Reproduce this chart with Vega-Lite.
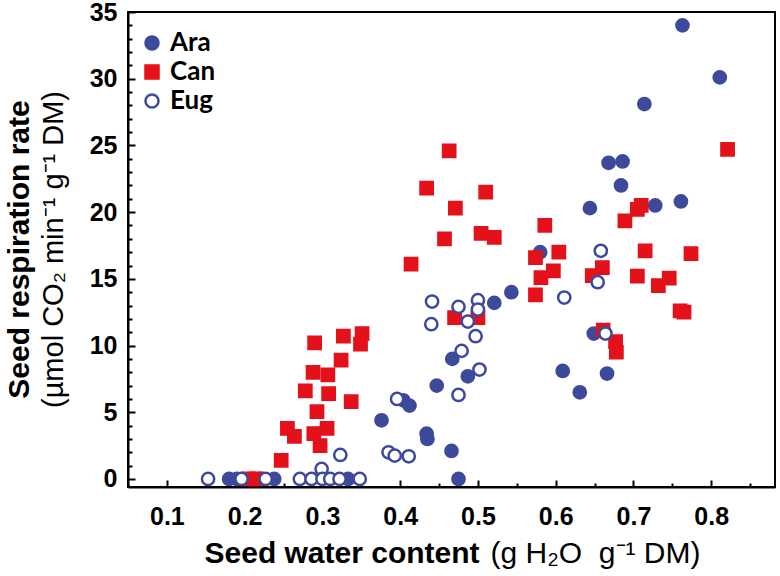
{
  "$schema": "https://vega.github.io/schema/vega-lite/v6.json",
  "autosize": {"type": "none"},
  "width": 647,
  "height": 475,
  "padding": {"left": 128, "top": 12, "right": 5, "bottom": 89},
  "background": "white",
  "config": {
    "view": {"stroke": "black", "strokeWidth": 2},
    "axis": {"domainColor": "black", "domainWidth": 2, "tickColor": "black", "tickWidth": 2, "grid": false,
             "labelFont": "Liberation Sans, Arial, sans-serif", "labelFontWeight": "bold", "labelFontSize": 25, "labelColor": "black",
             "titleColor": "black"}
  },
  "title": {"text": "Seed respiration rate", "subtitle": "(µmol CO₂ min⁻¹  g⁻¹ DM)", "orient": "left", "anchor": "middle",
            "font": "Liberation Sans, Arial, sans-serif", "fontSize": 30, "fontWeight": "bold", "color": "black",
            "subtitleFont": "Liberation Sans, Arial, sans-serif", "subtitleFontSize": 29, "subtitleFontWeight": "normal", "subtitleColor": "black",
            "subtitlePadding": 5, "offset": 20},
  "data": {"values": [
    {"s":"Ara","w":0.763,"r":34.0},{"s":"Ara","w":0.811,"r":30.1},{"s":"Ara","w":0.714,"r":28.1},{"s":"Ara","w":0.668,"r":23.7},
    {"s":"Ara","w":0.686,"r":23.8},{"s":"Ara","w":0.684,"r":22.0},{"s":"Ara","w":0.761,"r":20.8},{"s":"Ara","w":0.728,"r":20.5},
    {"s":"Ara","w":0.644,"r":20.3},{"s":"Ara","w":0.580,"r":17.0},{"s":"Ara","w":0.543,"r":14.0},{"s":"Ara","w":0.521,"r":13.2},
    {"s":"Ara","w":0.649,"r":10.9},{"s":"Ara","w":0.609,"r":8.1},{"s":"Ara","w":0.666,"r":7.9},{"s":"Ara","w":0.631,"r":6.5},
    {"s":"Ara","w":0.467,"r":9.0},{"s":"Ara","w":0.487,"r":7.7},{"s":"Ara","w":0.447,"r":7.0},{"s":"Ara","w":0.404,"r":5.9},
    {"s":"Ara","w":0.412,"r":5.5},{"s":"Ara","w":0.376,"r":4.4},{"s":"Ara","w":0.434,"r":3.4},{"s":"Ara","w":0.435,"r":3.0},
    {"s":"Ara","w":0.466,"r":2.1},{"s":"Ara","w":0.475,"r":0},{"s":"Ara","w":0.333,"r":0},{"s":"Ara","w":0.18,"r":0},
    {"s":"Ara","w":0.19,"r":0},{"s":"Ara","w":0.22,"r":0},{"s":"Ara","w":0.238,"r":0},
    {"s":"Can","w":0.463,"r":24.6},{"s":"Can","w":0.434,"r":21.8},{"s":"Can","w":0.510,"r":21.5},{"s":"Can","w":0.471,"r":20.3},
    {"s":"Can","w":0.457,"r":18.0},{"s":"Can","w":0.504,"r":18.4},{"s":"Can","w":0.521,"r":18.1},{"s":"Can","w":0.414,"r":16.1},
    {"s":"Can","w":0.586,"r":19.0},{"s":"Can","w":0.574,"r":16.6},{"s":"Can","w":0.581,"r":15.1},{"s":"Can","w":0.574,"r":13.8},
    {"s":"Can","w":0.470,"r":12.1},{"s":"Can","w":0.500,"r":12.1},{"s":"Can","w":0.327,"r":10.7},{"s":"Can","w":0.351,"r":10.9},
    {"s":"Can","w":0.349,"r":10.1},{"s":"Can","w":0.324,"r":8.9},{"s":"Can","w":0.337,"r":5.8},{"s":"Can","w":0.290,"r":10.2},
    {"s":"Can","w":0.288,"r":8.0},{"s":"Can","w":0.307,"r":7.8},{"s":"Can","w":0.278,"r":6.6},{"s":"Can","w":0.308,"r":6.4},
    {"s":"Can","w":0.293,"r":5.05},{"s":"Can","w":0.255,"r":3.8},{"s":"Can","w":0.264,"r":3.2},{"s":"Can","w":0.289,"r":3.4},
    {"s":"Can","w":0.306,"r":3.8},{"s":"Can","w":0.297,"r":2.5},{"s":"Can","w":0.247,"r":1.4},{"s":"Can","w":0.710,"r":20.5},
    {"s":"Can","w":0.705,"r":20.2},{"s":"Can","w":0.689,"r":19.35},{"s":"Can","w":0.604,"r":17.0},{"s":"Can","w":0.715,"r":17.1},
    {"s":"Can","w":0.774,"r":16.9},{"s":"Can","w":0.597,"r":15.6},{"s":"Can","w":0.660,"r":15.85},{"s":"Can","w":0.647,"r":15.25},
    {"s":"Can","w":0.705,"r":15.2},{"s":"Can","w":0.746,"r":15.05},{"s":"Can","w":0.732,"r":14.5},{"s":"Can","w":0.760,"r":12.6},
    {"s":"Can","w":0.765,"r":12.5},{"s":"Can","w":0.661,"r":11.15},{"s":"Can","w":0.677,"r":10.3},{"s":"Can","w":0.678,"r":9.5},
    {"s":"Can","w":0.821,"r":24.7},{"s":"Can","w":0.205,"r":0},{"s":"Can","w":0.215,"r":0},
    {"s":"Eug","w":0.441,"r":13.3},{"s":"Eug","w":0.440,"r":11.6},{"s":"Eug","w":0.475,"r":12.9},{"s":"Eug","w":0.500,"r":13.4},
    {"s":"Eug","w":0.500,"r":12.7},{"s":"Eug","w":0.487,"r":11.8},{"s":"Eug","w":0.497,"r":10.7},{"s":"Eug","w":0.479,"r":9.6},
    {"s":"Eug","w":0.502,"r":8.2},{"s":"Eug","w":0.475,"r":6.3},{"s":"Eug","w":0.396,"r":6.0},{"s":"Eug","w":0.385,"r":2.0},
    {"s":"Eug","w":0.393,"r":1.75},{"s":"Eug","w":0.411,"r":1.7},{"s":"Eug","w":0.658,"r":17.1},{"s":"Eug","w":0.654,"r":14.75},
    {"s":"Eug","w":0.611,"r":13.6},{"s":"Eug","w":0.664,"r":10.9},{"s":"Eug","w":0.299,"r":0.75},{"s":"Eug","w":0.323,"r":1.8},
    {"s":"Eug","w":0.153,"r":0},{"s":"Eug","w":0.196,"r":0},{"s":"Eug","w":0.227,"r":0},{"s":"Eug","w":0.271,"r":0},
    {"s":"Eug","w":0.286,"r":0},{"s":"Eug","w":0.300,"r":0},{"s":"Eug","w":0.310,"r":0},{"s":"Eug","w":0.322,"r":0},
    {"s":"Eug","w":0.348,"r":0}
  ]},
  "layer": [
    {
      "mark": {"type": "point", "filled": true, "size": 150, "strokeWidth": 2.5, "opacity": 1},
      "encoding": {
        "x": {"field": "w", "type": "quantitative", "scale": {"domain": [0.05, 0.882], "nice": false, "zero": false},
              "axis": {"orient": "bottom", "values": [0.1,0.2,0.3,0.4,0.5,0.6,0.7,0.8], "format": ".1f", "tickSize": -7,
                       "labelPadding": 24, "title": "Seed water content", "titleFont": "Liberation Sans, Arial, sans-serif", "titleFontSize": 30,
                       "titleFontWeight": "bold", "titleX": 76, "titleY": 75, "titleAlign": "left", "titleBaseline": "alphabetic"}},
        "y": {"field": "r", "type": "quantitative", "scale": {"domain": [-0.6, 35.0], "nice": false, "zero": false},
              "axis": {"orient": "left", "values": [0,5,10,15,20,25,30,35], "tickSize": -7, "labelPadding": 18,
                       "title": "(g H₂O\u00a0\u00a0g⁻¹ DM)", "titleAngle": 0, "titleX": 362, "titleY": 550, "titleAlign": "left",
                       "titleBaseline": "alphabetic", "titleFont": "Liberation Sans, Arial, sans-serif", "titleFontSize": 30, "titleFontWeight": "normal"}},
        "shape": {"field": "s", "type": "nominal", "scale": {"domain": ["Ara","Can","Eug"], "range": ["circle","square","circle"]},
                  "legend": {"title": null, "orient": "none", "legendX": 11, "legendY": 18, "padding": 0,
                             "labelFont": "Lato", "labelFontSize": 26, "labelFontWeight": "bold", "labelColor": "black",
                             "symbolSize": 170, "symbolStrokeWidth": 2.5, "rowPadding": 3, "labelOffset": 5}},
        "fill": {"field": "s", "type": "nominal", "scale": {"domain": ["Ara","Can","Eug"], "range": ["#3d4a9c","#e4111b","white"]}},
        "stroke": {"field": "s", "type": "nominal", "scale": {"domain": ["Ara","Can","Eug"], "range": ["#3d4a9c","#e4111b","#3d4a9c"]}}
      }
    },
    {
      "mark": {"type": "point", "opacity": 0},
      "encoding": {
        "x": {"field": "w", "type": "quantitative",
              "axis": {"orient": "bottom", "values": [0.05,0.15,0.25,0.35,0.45,0.55,0.65,0.75,0.85], "labels": false, "domain": false,
                       "tickSize": -4, "title": null}},
        "y": {"field": "r", "type": "quantitative",
              "axis": {"orient": "left", "values": [1,2,3,4,6,7,8,9,11,12,13,14,16,17,18,19,21,22,23,24,26,27,28,29,31,32,33,34],
                       "labels": false, "domain": false, "tickSize": -4, "title": null}}
      }
    }
  ],
  "resolve": {"axis": {"x": "independent", "y": "independent"}}
}
